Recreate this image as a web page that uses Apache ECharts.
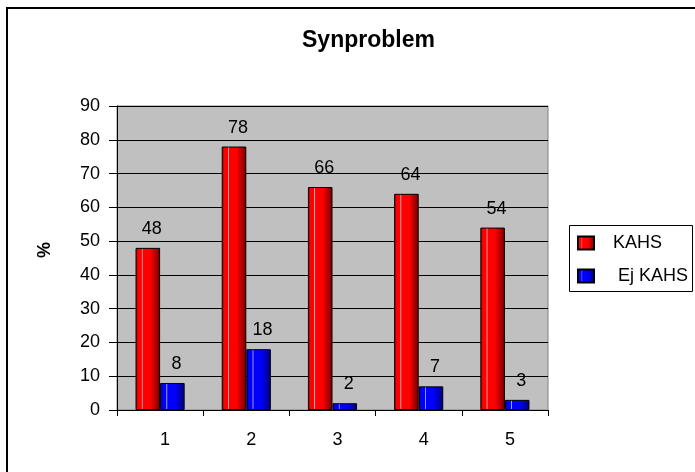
<!DOCTYPE html>
<html>
<head>
<meta charset="utf-8">
<script src="https://cdn.jsdelivr.net/npm/echarts@6/dist/echarts.min.js"></script>
<style>
  html, body {margin: 0; padding: 0; background: #fff;}
  #chart {width: 695px; height: 472px;}
</style>
</head>
<body>
<div id="chart"></div>
<script>
const categories = ['1', '2', '3', '4', '5']
const kahs = [48, 78, 66, 64, 54]
const ejKahs = [8, 18, 2, 7, 3]
const yTicks = {min: 0, max: 90, interval: 10}

const font = 'Liberation Sans, Arial, sans-serif'

const barFill = (light, base, dark) => new echarts.graphic.LinearGradient(0, 0, 1, 0, [
  {offset: 0, color: dark},
  {offset: 0.1, color: base},
  {offset: 0.24, color: base},
  {offset: 0.27, color: light},
  {offset: 0.31, color: base},
  {offset: 0.6, color: base},
  {offset: 1, color: dark}
])

const redFill = barFill('#ffb0b0', '#ff0000', '#700000')
const blueFill = barFill('#b0b0ff', '#0000ff', '#000070')

const labelStyle = {
  show: true,
  position: 'top',
  distance: 10,
  color: '#000',
  fontSize: 18,
  fontFamily: font,
  padding: [0, 0, 0, 8]
}

const myChart = echarts.init(document.getElementById('chart'))
myChart.setOption({
  animation: false,
  backgroundColor: '#fff',
  title: {
    text: 'Synproblem',
    left: 302,
    top: 29,
    padding: 0,
    textStyle: {fontSize: 23, fontWeight: 'bold', fontFamily: font, color: '#000'}
  },
  graphic: [
    {
      type: 'rect',
      shape: {x: 7, y: 8, width: 720, height: 500},
      style: {fill: 'none', stroke: '#000', lineWidth: 2},
      silent: true
    },
    {
      type: 'rect',
      shape: {x: 569.5, y: 225.5, width: 123, height: 66},
      style: {fill: '#fff', stroke: '#000', lineWidth: 1},
      silent: true
    },
    {
      type: 'text',
      x: 45,
      y: 250,
      rotation: Math.PI / 2,
      style: {
        text: '%',
        font: 'bold 18px ' + font,
        fill: '#000',
        align: 'center',
        verticalAlign: 'middle'
      },
      silent: true
    }
  ],
  legend: {
    orient: 'vertical',
    left: 577,
    top: 234,
    padding: 0,
    icon: 'rect',
    itemWidth: 16,
    itemHeight: 13,
    itemGap: 15,
    textStyle: {fontSize: 18, fontFamily: font, color: '#000', padding: [0, 0, 0, 14]},
    data: [
      {name: 'KAHS'},
      {name: 'Ej KAHS', textStyle: {padding: [0, 0, 0, 19]}}
    ]
  },
  grid: {
    left: 117,
    top: 106,
    width: 431,
    height: 304,
    show: true,
    backgroundColor: '#c0c0c0',
    borderColor: '#808080',
    borderWidth: 1
  },
  xAxis: {
    type: 'category',
    data: categories,
    axisLine: {lineStyle: {color: '#000', width: 1}},
    axisTick: {show: true, length: 6, lineStyle: {color: '#000'}},
    axisLabel: {color: '#000', fontSize: 18, fontFamily: font, margin: 21, padding: [0, 0, 0, 10]},
    splitLine: {show: false}
  },
  yAxis: {
    type: 'value',
    min: yTicks.min,
    max: yTicks.max,
    interval: yTicks.interval,
    axisLine: {show: true, lineStyle: {color: '#000', width: 1}},
    axisTick: {show: true, length: 8, lineStyle: {color: '#000'}},
    axisLabel: {color: '#000', fontSize: 18, fontFamily: font, margin: 17},
    splitLine: {show: true, lineStyle: {color: '#000', width: 1}}
  },
  series: [
    {
      name: 'KAHS',
      type: 'bar',
      data: kahs,
      barGap: '0%',
      barCategoryGap: '43%',
      itemStyle: {color: redFill, borderColor: '#000', borderWidth: 1},
      label: labelStyle
    },
    {
      name: 'Ej KAHS',
      type: 'bar',
      data: ejKahs,
      itemStyle: {color: blueFill, borderColor: '#000', borderWidth: 1},
      label: labelStyle
    }
  ]
})
</script>
</body>
</html>
